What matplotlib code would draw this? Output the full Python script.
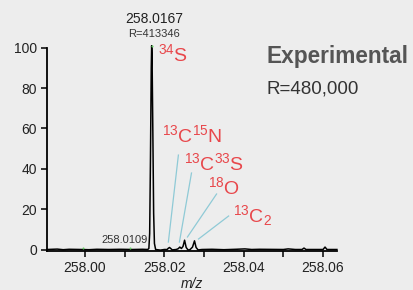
import matplotlib
matplotlib.use("Agg")
import matplotlib.pyplot as plt
from matplotlib.ticker import MultipleLocator

plt.rcParams['font.family'] = ['Liberation Sans', 'DejaVu Sans']
plt.rcParams['mathtext.fontset'] = 'custom'
plt.rcParams['mathtext.rm'] = 'Liberation Sans'
plt.rcParams['mathtext.it'] = 'Liberation Sans:italic'

# profile spectrum
trace_mz = [257.9904, 257.9930, 257.9945, 257.9960, 257.9990, 258.0010, 258.0030,
            258.0060, 258.0090, 258.0120, 258.0145, 258.0158, 258.0161, 258.0163,
            258.0165, 258.0167, 258.0168, 258.0169, 258.0171, 258.0173, 258.0175,
            258.0178, 258.0190, 258.0200, 258.0207, 258.0210, 258.0213, 258.0216,
            258.0220, 258.0230, 258.0235, 258.0239, 258.0243, 258.0247, 258.0251,
            258.0255, 258.0260, 258.0265, 258.0271, 258.0276, 258.0280, 258.0285,
            258.0295, 258.0320, 258.0350, 258.0380, 258.0403, 258.0420, 258.0440,
            258.0500, 258.0512, 258.0530, 258.0547, 258.0552, 258.0557, 258.0600,
            258.0605, 258.0610, 258.0635]
trace_int = [0, 0.2, -0.1, 0.1, 0, -0.1, 0.1,
             0, 0.1, 0, 0.1, 0, 0.5, 8,
             45, 90, 101, 96, 58, 18, 3,
             0, -0.3, 0, 0, 0.6, 1.0, 0.5,
             -0.2, 0, 0.4, 1.2, 0.5, 1.5, 4.6,
             1.0, -0.3, 0, 1.2, 4.3, 1.0, -0.2,
             0, 0.1, -0.1, 0.1, 0.3, 0, 0.1,
             0, 0.3, 0, 0, 0.7, 0, 0,
             1.2, 0, 0]

# centroid markers
centroid_mz = [257.99958, 258.01134, 258.0168]
centroid_int = [0.7, 0.7, 101]

# isotope labels and their leader lines
iso_labels = [r'$\mathrm{^{13}C^{15}N}$', r'$\mathrm{^{13}C^{33}S}$', r'$\mathrm{^{18}O}$', r'$\mathrm{^{13}C_2}$']
iso_text_mz = [258.01949, 258.02506, 258.03089, 258.03722]
iso_text_int = [53.2, 39.4, 27.5, 13.6]
leader_start_mz = [258.02101, 258.02380, 258.02582, 258.02861]
leader_start_int = [3.7, 3.7, 6.2, 5.2]
leader_end_mz = [258.02354, 258.02684, 258.03316, 258.03620]
leader_end_int = [46.8, 37.9, 27.5, 16.6]

bg = '#EDEDED'
red = '#E8474B'
cyan = '#8FCAD6'

fig = plt.figure(figsize=(4.13, 2.90), dpi=100, facecolor=bg)
ax = fig.add_axes([0.1138, 0.1345, 0.7022, 0.701])
ax.set_facecolor(bg)

ax.plot(trace_mz, trace_int, color='black', lw=1.1, clip_on=False, zorder=3)
ax.plot(centroid_mz, centroid_int, 'o', color='#66CC66', ms=1.5, mew=0, clip_on=False, zorder=4)

for i in range(len(iso_labels)):
    ax.plot([leader_start_mz[i], leader_end_mz[i]], [leader_start_int[i], leader_end_int[i]],
            color=cyan, lw=0.9, zorder=2)
    ax.text(iso_text_mz[i], iso_text_int[i], iso_labels[i], color=red, fontsize=14,
            ha='left', va='baseline')

ax.text(258.01848, 93.3, r'$\mathrm{^{34}S}$', color=red, fontsize=14, ha='left', va='baseline')
ax.text(258.01747, 112, '258.0167', color='#222222', fontsize=10, ha='center', va='baseline', clip_on=False)
ax.text(258.01747, 105.2, 'R=413346', color='#333333', fontsize=8, ha='center', va='baseline', clip_on=False)
ax.text(258.0157, 3.2, '258.0109', color='#333333', fontsize=8, ha='right', va='baseline')

fig.text(267 / 413, 1 - 63 / 290, 'Experimental', color='#555555', fontsize=16.3,
         fontweight='bold', ha='left', va='baseline')
fig.text(267 / 413, 1 - 93 / 290, 'R=480,000', color='#333333', fontsize=13.5,
         ha='left', va='baseline')

ax.set_xlim(257.99042, 258.06352)
ax.set_ylim(-0.74, 100)
ax.xaxis.set_major_locator(MultipleLocator(0.02))
ax.xaxis.set_minor_locator(MultipleLocator(0.01))
ax.xaxis.set_major_formatter(matplotlib.ticker.FormatStrFormatter('%.2f'))
ax.set_yticks([0, 20, 40, 60, 80, 100])

for s in ['top', 'right']:
    ax.spines[s].set_visible(False)
for s in ['left', 'bottom']:
    ax.spines[s].set_linewidth(1.3)

ax.tick_params(axis='both', which='both', length=4.3, width=1.1, color='black',
               labelsize=10, labelcolor='#222222', pad=3)
ax.set_xlabel('m/z', fontstyle='italic', fontsize=10, color='#222222', labelpad=1)

plt.savefig('out.png', dpi=100, facecolor=bg)
